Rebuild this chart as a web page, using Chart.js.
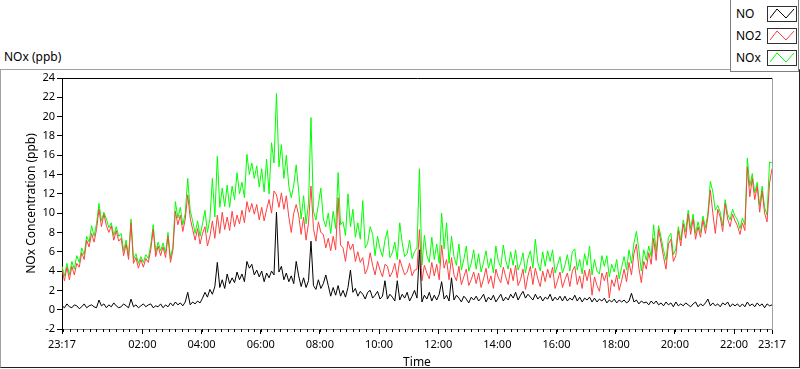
<!DOCTYPE html>
<html>
<head>
<meta charset="utf-8">
<script src="https://cdn.jsdelivr.net/npm/chart.js@4.4.0/dist/chart.umd.min.js"></script>
<style>
  html, body { margin: 0; padding: 0; background: #fff; }
  body { width: 800px; height: 369px; position: relative; overflow: hidden; font-family: "Noto Sans", sans-serif; color: #000; }
  #frame { position: absolute; left: 0; top: 69px; width: 798px; height: 297px;
           border-left: 1px solid #a0a0a0; border-top: 1px solid #a0a0a0;
           border-right: 1px solid #202020; border-bottom: 1px solid #202020; }
  #unit { position: absolute; left: 4px; top: 49px; font-size: 12px; line-height: 16px; }
  #chart { position: absolute; left: 0; top: 0; }
  #legend { position: absolute; left: 730px; top: 0; width: 67px; height: 71px; background: #fff;
            border: 1px solid #808080; border-top: none; }
  .item { position: absolute; left: 0; width: 67px; height: 16px; }
  .item span { position: absolute; left: 5px; top: 0; font-size: 12px; line-height: 16px; }
  .item svg { position: absolute; left: 36px; top: 0; }
</style>
</head>
<body>
<div id="frame"></div>
<div id="unit">NOx (ppb)</div>
<canvas id="chart" width="800" height="369"></canvas>
<div id="legend"></div>
<script>
// sampling: one value every 5 minutes, starting 23:17
const startLabel = '23:17';
const stepMinutes = 5;

const seriesNames = ['NO', 'NO2', 'NOx'];
const seriesColors = ['#000000', '#ff4040', '#00ff00'];

const xTickMinutes = [0, 163, 283, 403, 523, 643, 763, 883, 1003, 1123, 1243, 1363, 1440];
const xTickLabels = ['23:17', '02:00', '04:00', '06:00', '08:00', '10:00', '12:00',
                     '14:00', '16:00', '18:00', '20:00', '22:00', '23:17'];

// NO (ppb), one row per hour
const noValues = [
  0.4, 0.2, 0.6, 0.3, 0.2, 0.5, 0.4, 0.1, 0.3, 0.6, 0.2, 0.4,
  0.5, 0.3, 0.2, 1.0, 0.4, 0.6, 0.2, 0.5, 0.3, 0.7, 0.4, 0.2,
  0.3, 0.6, 0.4, 0.2, 1.1, 0.3, 0.5, 0.2, 0.4, 0.6, 0.3, 0.5,
  0.6, 0.2, 0.4, 0.3, 0.6, 0.2, 0.5, 0.3, 0.7, 0.4, 0.8, 0.5,
  0.7, 0.4, 0.8, 1.8, 0.5, 0.8, 0.6, 0.9, 0.7, 1.2, 1.8, 1.3,
  2.1, 1.6, 2.4, 4.9, 2.3, 3.1, 2.2, 3.7, 2.7, 3.3, 2.8, 3.9,
  3.1, 3.7, 2.9, 5.0, 4.3, 4.7, 3.6, 4.1, 3.4, 4.0, 2.9, 3.8,
  3.3, 4.0, 3.6, 10.1, 3.9, 4.5, 3.1, 3.8, 2.9, 3.5, 2.7, 5.0,
  3.5, 2.4, 3.3, 2.3, 3.0, 7.1, 2.5, 2.1, 3.1, 2.2, 2.7, 3.6,
  2.5, 1.4, 2.3, 1.5, 2.5, 1.4, 2.0, 1.3, 2.3, 4.1, 1.8, 2.2,
  1.4, 1.9, 1.6, 1.1, 1.8, 2.0, 1.2, 1.5, 1.9, 1.1, 1.4, 3.0,
  1.1, 1.6, 1.3, 0.9, 3.0, 1.0, 1.6, 1.2, 1.8, 0.9, 1.4, 2.0,
  1.2, 6.2, 0.8, 1.5, 1.1, 1.8, 0.9, 1.5, 1.0, 1.6, 2.9, 1.1,
  1.5, 0.9, 3.3, 1.0, 1.5, 1.2, 0.8, 1.4, 1.1, 0.7, 1.3, 1.0,
  1.4, 0.9, 1.2, 1.6, 0.8, 1.3, 1.0, 1.5, 0.8, 1.2, 1.6, 0.9,
  1.3, 1.0, 1.6, 1.2, 1.8, 1.0, 1.5, 1.9, 1.2, 1.6, 1.3, 1.0,
  1.6, 1.1, 1.4, 0.9, 1.3, 1.1, 1.6, 0.9, 1.3, 1.0, 1.4, 0.9,
  1.4, 0.9, 1.2, 1.0, 1.5, 0.9, 1.3, 0.8, 1.2, 1.0, 1.3, 0.8,
  1.2, 0.8, 1.1, 0.9, 1.2, 0.7, 1.0, 0.8, 1.1, 0.7, 1.0, 0.8,
  1.0, 0.7, 0.9, 1.7, 0.8, 1.0, 0.6, 0.9, 0.7, 0.8, 0.5, 0.9,
  0.6, 0.9, 0.5, 0.7, 0.4, 0.8, 0.5, 0.7, 0.3, 0.8, 0.4, 0.6,
  0.4, 0.7, 0.5, 0.3, 0.6, 0.8, 0.3, 0.6, 0.4, 0.7, 1.1, 0.4,
  0.7, 0.4, 0.6, 0.3, 0.7, 0.5, 0.8, 0.3, 0.6, 0.4, 0.6, 0.3,
  0.6, 0.3, 0.8, 0.4, 0.6, 0.3, 0.7, 0.4, 0.6, 0.2, 0.6, 0.4,
  0.5
];

// NO2 (ppb)
const no2Values = [
  4.2, 3.0, 4.4, 3.1, 4.5, 3.6, 4.8, 4.4, 5.9, 5.2, 7.2, 6.5,
  7.9, 7.0, 8.3, 10.4, 8.6, 9.9, 8.7, 8.0, 8.7, 7.2, 8.2, 7.1,
  7.4, 5.6, 6.8, 5.2, 9.0, 4.8, 5.4, 4.3, 5.2, 4.4, 5.3, 4.9,
  6.2, 8.3, 5.5, 6.6, 5.6, 6.5, 5.4, 7.6, 4.9, 6.2, 10.2, 8.8,
  9.8, 8.1, 9.4, 11.9, 9.5, 8.3, 7.2, 8.4, 6.8, 7.9, 8.6, 6.6,
  7.6, 9.2, 7.4, 9.8, 7.9, 10.1, 8.3, 9.6, 8.2, 10.2, 8.6, 9.8,
  8.9, 10.3, 9.0, 11.2, 10.1, 11.0, 9.9, 10.9, 9.3, 10.6, 9.2, 10.4,
  11.4, 10.0, 12.3, 11.9, 10.6, 12.1, 10.4, 11.8, 9.6, 8.0, 10.0, 10.9,
  9.8, 7.8, 9.6, 7.2, 9.0, 12.8, 8.4, 7.1, 9.1, 8.0, 7.8, 6.4,
  7.4, 6.1, 7.6, 6.2, 11.6, 6.7, 6.4, 5.0, 7.1, 6.2, 6.8, 5.0,
  6.0, 4.9, 5.4, 3.7, 4.3, 5.9, 4.6, 3.6, 5.0, 4.1, 3.4, 4.7,
  4.5, 3.4, 3.9, 4.8, 3.3, 5.2, 4.4, 3.6, 3.9, 4.8, 3.5, 4.1,
  4.2, 8.3, 3.0, 4.6, 3.8, 3.2, 4.9, 3.5, 4.7, 3.1, 6.7, 4.3,
  5.2, 3.1, 5.4, 3.6, 3.0, 4.5, 2.6, 3.4, 4.2, 2.5, 3.1, 3.9,
  2.7, 3.8, 2.3, 3.2, 4.3, 2.7, 3.5, 2.2, 4.2, 3.3, 2.8, 4.4,
  3.4, 2.6, 4.3, 3.0, 4.6, 2.5, 3.1, 4.2, 2.1, 3.5, 4.5, 2.6,
  4.3, 3.2, 2.4, 4.0, 2.9, 4.2, 3.3, 4.4, 2.2, 3.0, 3.9, 2.3,
  3.1, 3.8, 2.4, 4.0, 4.5, 2.6, 3.5, 2.2, 4.1, 3.0, 4.2, 1.5,
  3.4, 2.5, 1.9, 3.8, 3.0, 3.9, 1.2, 3.1, 2.4, 3.6, 2.0, 3.0,
  4.2, 2.9, 4.9, 3.6, 5.8, 6.8, 4.3, 2.8, 5.0, 4.2, 5.9, 4.7,
  7.4, 5.1, 8.3, 6.9, 5.5, 4.2, 6.8, 7.3, 5.0, 5.6, 8.2, 6.6,
  8.9, 7.4, 9.9, 7.8, 9.4, 7.3, 8.6, 7.5, 9.3, 7.9, 9.6, 12.4,
  10.0, 7.9, 10.4, 9.6, 8.1, 11.0, 9.4, 8.6, 9.9, 9.2, 8.7, 7.8,
  9.0, 8.2, 14.8, 11.7, 13.6, 11.4, 12.8, 10.1, 12.3, 10.0, 9.1, 13.1,
  14.6
];

// NOx (ppb)
const noxValues = [
  4.5, 3.5, 4.8, 3.6, 5.0, 4.2, 5.6, 4.9, 6.4, 5.7, 7.6, 7.0,
  8.7, 7.6, 8.9, 11.0, 9.2, 10.1, 9.4, 8.5, 9.0, 7.7, 8.6, 7.6,
  7.9, 6.1, 7.2, 5.6, 9.4, 5.2, 5.8, 4.8, 5.5, 4.9, 5.7, 5.3,
  6.7, 8.8, 6.0, 7.0, 6.1, 6.9, 5.9, 8.0, 5.3, 6.6, 11.2, 9.5,
  10.6, 8.8, 10.0, 13.6, 10.3, 9.2, 7.9, 9.2, 7.6, 8.9, 10.3, 8.0,
  9.4, 13.6, 9.6, 15.9, 10.6, 12.6, 10.7, 12.9, 10.6, 12.8, 11.4, 14.2,
  12.0, 13.2, 11.6, 16.1, 14.0, 15.2, 13.6, 14.9, 12.7, 14.6, 12.2, 15.6,
  12.0, 17.3, 15.2, 22.4, 14.8, 17.1, 13.6, 16.0, 12.8, 11.6, 12.9, 15.0,
  12.3, 9.4, 11.8, 8.9, 11.0, 19.9, 10.2, 9.3, 10.9, 12.6, 9.4, 8.6,
  10.0, 7.9, 10.2, 8.4, 14.2, 8.8, 9.1, 7.7, 12.0, 8.6, 10.4, 7.5,
  9.0, 7.3, 11.3, 6.4, 6.9, 8.6, 7.8, 5.6, 7.6, 6.3, 5.5, 7.2,
  8.2, 5.4, 5.9, 7.0, 5.2, 9.0, 6.9, 5.5, 5.8, 7.2, 5.3, 6.0,
  6.4, 14.6, 4.6, 7.7, 5.6, 4.9, 7.5, 5.2, 6.8, 4.8, 10.0, 6.3,
  9.0, 4.8, 7.6, 5.5, 4.6, 6.8, 4.1, 5.2, 6.6, 4.0, 4.8, 6.2,
  4.2, 5.8, 3.9, 4.9, 6.1, 4.3, 5.3, 3.8, 6.6, 5.0, 4.4, 6.7,
  5.1, 4.2, 6.0, 4.6, 6.2, 4.1, 4.8, 5.9, 3.8, 5.3, 6.1, 4.3,
  7.3, 4.9, 4.0, 6.0, 4.5, 6.1, 5.0, 6.2, 3.8, 4.6, 5.5, 3.8,
  4.6, 5.7, 4.0, 6.0, 6.3, 4.1, 5.2, 3.7, 5.8, 4.6, 6.6, 3.6,
  5.2, 4.0, 3.7, 5.6, 4.5, 5.6, 3.4, 4.7, 3.9, 5.2, 3.2, 4.4,
  5.5, 4.1, 6.2, 4.8, 6.9, 8.1, 6.2, 4.0, 6.2, 5.1, 6.6, 5.5,
  8.8, 6.0, 8.7, 7.5, 6.2, 5.1, 7.5, 7.9, 5.7, 6.3, 8.6, 7.2,
  9.3, 8.1, 10.3, 8.4, 9.9, 7.9, 9.1, 8.0, 9.7, 8.5, 10.0, 13.3,
  12.2, 10.3, 10.8, 10.1, 8.7, 11.4, 9.9, 9.3, 10.4, 9.7, 9.3, 8.4,
  9.5, 8.8, 15.7, 12.8, 14.1, 12.1, 13.2, 10.8, 12.8, 10.6, 9.8, 15.3,
  15.2
];

const times = noValues.map((_, i) => i * stepMinutes); // minutes after startLabel
const toPoints = values => values.map((v, i) => ({ x: times[i], y: v }));

const axisFont = { family: 'Noto Sans', size: 11 };
const titleFont = { family: 'Noto Sans', size: 12 };

// minor ticks: 9 divisions per 2-hour step, aligned on 02:00
const minorTicks = {
  id: 'minorTicks',
  afterDraw(chart) {
    const sx = chart.scales.x;
    const ctx = chart.ctx;
    const y0 = chart.chartArea.bottom;
    const step = 120 / 9;
    ctx.save();
    ctx.strokeStyle = '#000';
    ctx.lineWidth = 1;
    ctx.beginPath();
    for (let t = xTickMinutes[1] - step * 12; t <= 1440; t += step) {
      if (t < 0) continue;
      const px = Math.round(sx.getPixelForValue(t)) + 0.5;
      ctx.moveTo(px, y0);
      ctx.lineTo(px, y0 + 3);
    }
    ctx.stroke();
    ctx.restore();
  }
};

// top and right edges of the plot area
const plotFrame = {
  id: 'plotFrame',
  afterDraw(chart) {
    const { left, top, right, bottom } = chart.chartArea;
    const ctx = chart.ctx;
    ctx.save();
    ctx.lineWidth = 1;
    ctx.strokeStyle = '#000';
    ctx.beginPath();
    ctx.moveTo(left, top + 0.5);
    ctx.lineTo(right + 1, top + 0.5);
    ctx.stroke();
    ctx.strokeStyle = '#a0a0a0';
    ctx.beginPath();
    ctx.moveTo(right + 0.5, top);
    ctx.lineTo(right + 0.5, bottom + 1);
    ctx.stroke();
    ctx.restore();
  }
};

const ctx = document.getElementById('chart').getContext('2d');
const chart = new Chart(ctx, {
  type: 'line',
  data: {
    datasets: [
      { label: seriesNames[0], data: toPoints(noValues), borderColor: seriesColors[0], order: 0 },
      { label: seriesNames[1], data: toPoints(no2Values), borderColor: seriesColors[1], order: 1 },
      { label: seriesNames[2], data: toPoints(noxValues), borderColor: seriesColors[2], order: 2 }
    ]
  },
  options: {
    responsive: false,
    animation: false,
    devicePixelRatio: 1,
    layout: { padding: { top: 78, right: 28, left: 0, bottom: 0 } },
    elements: {
      point: { radius: 0 },
      line: { borderWidth: 1, tension: 0 }
    },
    plugins: { legend: { display: false }, tooltip: { enabled: false } },
    scales: {
      x: {
        type: 'linear',
        min: 0,
        max: 1440,
        afterBuildTicks: s => { s.ticks = xTickMinutes.map(v => ({ value: v })); },
        afterFit: s => { s.height = 40; },
        ticks: {
          autoSkip: false,
          maxRotation: 0,
          padding: 4,
          font: axisFont,
          color: '#000',
          callback: (v, i) => xTickLabels[i]
        },
        grid: { drawOnChartArea: false, tickLength: 5, color: '#000' },
        border: { color: '#808080' },
        title: { display: true, text: 'Time', font: titleFont, color: '#000', padding: { top: 0, bottom: -1 } }
      },
      y: {
        min: -2,
        max: 24,
        afterFit: s => { s.width = 62; },
        ticks: { stepSize: 2, padding: 2, font: axisFont, color: '#000' },
        grid: { drawOnChartArea: false, tickLength: 5, color: '#000' },
        border: { color: '#000' },
        title: { display: true, text: 'NOx Concentration (ppb)', font: titleFont, color: '#000', padding: { top: 24, bottom: 0 } }
      }
    }
  },
  plugins: [minorTicks, plotFrame]
});

// legend box, top right
const legend = document.getElementById('legend');
seriesNames.forEach((name, i) => {
  const item = document.createElement('div');
  item.className = 'item';
  item.style.top = (6 + i * 22) + 'px';
  item.innerHTML = '<span>' + name + '</span>' +
    '<svg width="30" height="16"><rect x="0.5" y="0.5" width="29" height="15" fill="#fff" stroke="#303030"/>' +
    '<polyline points="3,12 10,3 19,12 27,3" fill="none" stroke="' + seriesColors[i] + '" stroke-width="1"/></svg>';
  legend.appendChild(item);
});
</script>
</body>
</html>
